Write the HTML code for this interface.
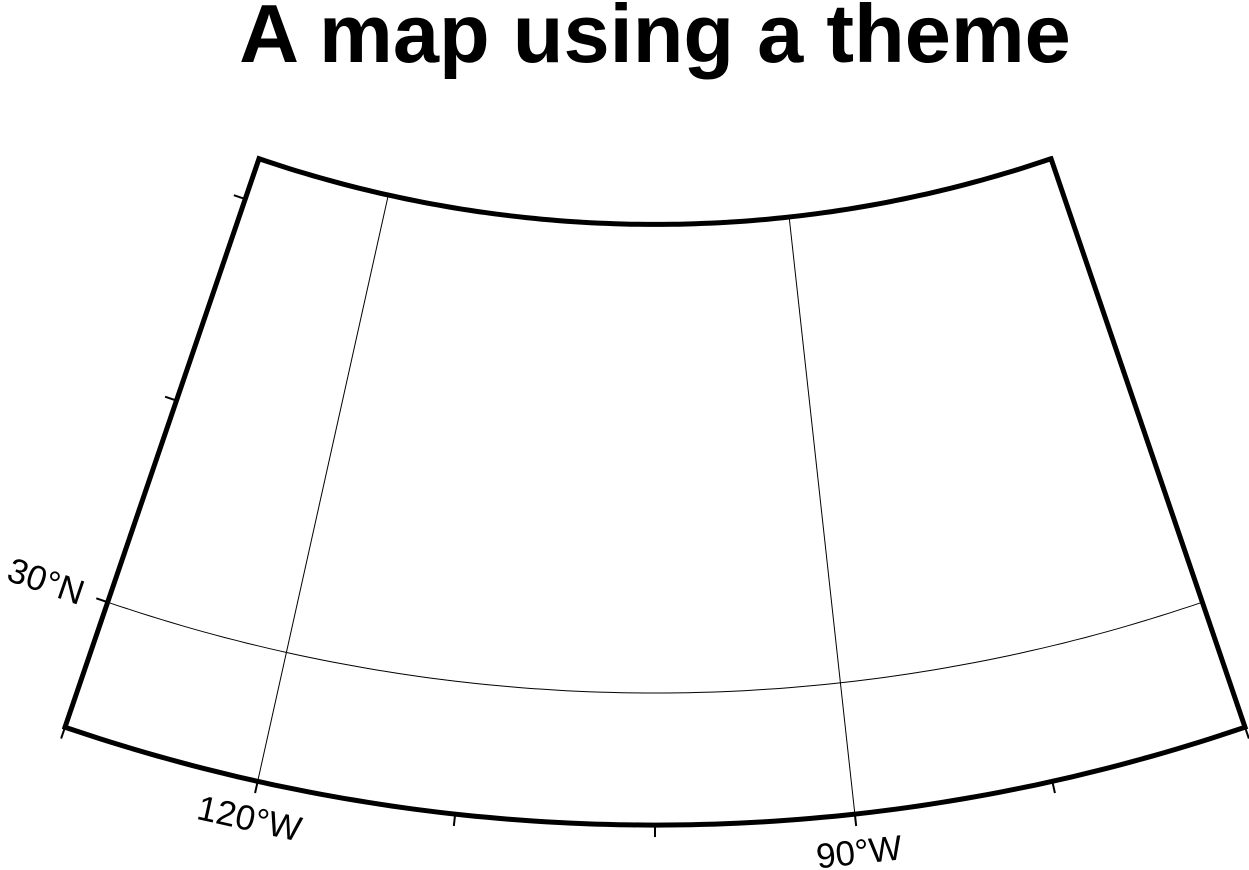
<!DOCTYPE html>
<html><head><meta charset="utf-8"><style>
html,body{margin:0;padding:0;background:#fff;}
svg{display:block;font-family:"Liberation Sans",sans-serif;}
</style></head><body>
<svg id="map" width="1249" height="870" viewBox="0 0 1249 870" xmlns="http://www.w3.org/2000/svg">
<text x="655" y="62" text-anchor="middle" font-size="83" font-weight="bold">A map using a theme</text>
<g id="grid"></g>
<g id="frame"></g>
<g id="ticks"></g>
<g id="labels"></g>
</svg>
<script>
const lonRange = [-130, -70];
const latRange = [23.8, 52];
const gridLons = [-120, -90];
const gridLats = [30];
const lonTicks = [-130, -120, -110, -100, -90, -80, -70];
const latTicks = [30, 40, 50];
const lonLabels = ["120°W", "90°W"];
const lonLabelVals = [-120, -90];
const latLabels = ["30°N"];
const latLabelVals = [30];

const NS = "http://www.w3.org/2000/svg";
const cx = 655, cy = -1002, n = 0.628, lon0 = -100;
function R(lat){ return 1695 - (lat - 30) * 21.3; }
function P(lon, lat){
  const a = n * (lon - lon0) * Math.PI / 180, r = R(lat);
  return [cx + r * Math.sin(a), cy + r * Math.cos(a)];
}
function mk(tag, attrs, parent){
  const e = document.createElementNS(NS, tag);
  for (const k in attrs) e.setAttribute(k, attrs[k]);
  document.getElementById(parent).appendChild(e);
  return e;
}
function parallel(lat, l0, l1){
  let d = "";
  for (let i = 0; i <= 100; i++){
    const p = P(l0 + (l1 - l0) * i / 100, lat);
    d += (i ? "L" : "M") + p[0].toFixed(1) + " " + p[1].toFixed(1);
  }
  return d;
}
gridLons.forEach(lon => {
  const a = P(lon, latRange[0]), b = P(lon, latRange[1]);
  const e = mk("line", {x1:a[0], y1:a[1], x2:b[0], y2:b[1], stroke:"#000", "stroke-width":1}, "grid");
  
  
});
gridLats.forEach(lat => {
  const e = mk("path", {d:parallel(lat, lonRange[0], lonRange[1]), fill:"none", stroke:"#000", "stroke-width":1}, "grid");
  
  
});
{
  const tr = P(lonRange[1], latRange[1]);
  let d = parallel(latRange[0], lonRange[0], lonRange[1]) + "L" + tr[0] + " " + tr[1];
  d += parallel(latRange[1], lonRange[1], lonRange[0]).replace(/^M/, "L") + "Z";
  const e = mk("path", {d:d, fill:"none", stroke:"#000", "stroke-width":5, "stroke-linejoin":"miter"}, "frame");
  
  
}
lonTicks.forEach(lon => {
  const a = P(lon, latRange[0]);
  const ang = n * (lon - lon0) * Math.PI / 180;
  const e = mk("line", {x1:a[0], y1:a[1], x2:a[0] + 12 * Math.sin(ang), y2:a[1] + 12 * Math.cos(ang), stroke:"#000", "stroke-width":2}, "ticks");
  
  
});
latTicks.forEach(lat => {
  const a = P(lonRange[0], lat);
  const ang = n * (lonRange[0] - lon0) * Math.PI / 180;
  const e = mk("line", {x1:a[0], y1:a[1], x2:a[0] - 12 * Math.cos(ang), y2:a[1] + 12 * Math.sin(ang), stroke:"#000", "stroke-width":2}, "ticks");
  
  
});
lonLabelVals.forEach((lon, i) => {
  const a = P(lon, latRange[0]);
  const ang = n * (lon - lon0);
  const r = ang * Math.PI / 180;
  const x = a[0] + 50 * Math.sin(r), y = a[1] + 50 * Math.cos(r);
  const e = mk("text", {x:x, y:y, "text-anchor":"middle", "font-size":35, transform:`rotate(${-ang} ${x} ${y})`}, "labels");
  e.textContent = lonLabels[i];
  
  
});
latLabelVals.forEach((lat, i) => {
  const a = P(lonRange[0], lat);
  const ang = n * (lonRange[0] - lon0);
  const r = ang * Math.PI / 180;
  const x = a[0] - 26 * Math.cos(r), y = a[1] + 26 * Math.sin(r);
  const e = mk("text", {x:x, y:y, "text-anchor":"end", "font-size":35, transform:`rotate(${-ang} ${x} ${y}) translate(0 12)`}, "labels");
  e.textContent = latLabels[i];
  
  
});
</script>
</body></html>
